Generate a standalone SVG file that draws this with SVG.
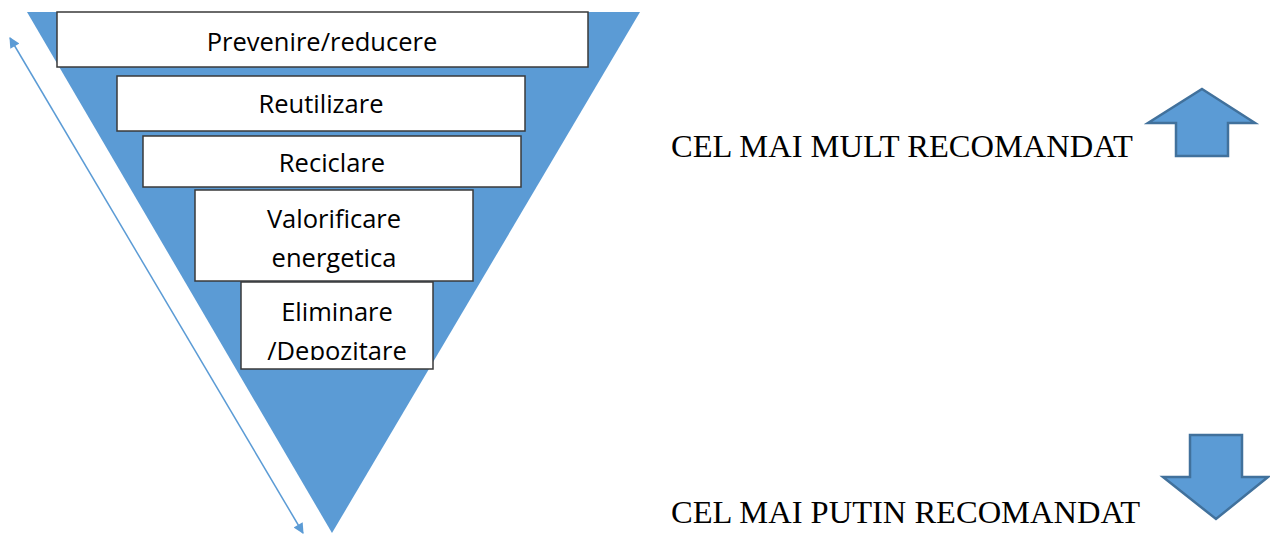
<svg xmlns="http://www.w3.org/2000/svg" width="1270" height="534" viewBox="0 0 1270 534">
<style>
.box{fill:#fff;stroke:#3a3a3a;stroke-width:1.5}
.bt{font-family:"Open Sans","Liberation Sans",sans-serif;font-size:25.5px;fill:#000;text-anchor:middle}
.rt{font-family:"Liberation Serif",serif;font-size:32.5px;fill:#000}
.blk{fill:#5B9BD5;stroke:#41719C;stroke-width:2.5}
</style>
<defs>
<marker id="ah" viewBox="0 0 10 10" refX="9" refY="5" markerWidth="8" markerHeight="7" orient="auto-start-reverse" markerUnits="strokeWidth">
<path d="M0,0 L10,5 L0,10 z" fill="#5B9BD5"/>
</marker>
<clipPath id="c5"><rect x="241" y="282" width="192" height="78"/></clipPath>
</defs>
<polygon id="triangle" points="27,12 640,12 332,533" fill="#5B9BD5"/>
<g id="connectors">
<line x1="10" y1="38" x2="303" y2="533" stroke="#5B9BD5" stroke-width="1.5" marker-start="url(#ah)" marker-end="url(#ah)"/>
</g>
<g id="n1"><rect class="box" x="57" y="12" width="531" height="55"/><text class="bt" x="322" y="51">Prevenire/reducere</text></g>
<g id="n2"><rect class="box" x="117" y="76" width="408" height="55"/><text class="bt" x="321" y="113">Reutilizare</text></g>
<g id="n3"><rect class="box" x="143" y="136" width="378" height="51"/><text class="bt" x="332" y="172">Reciclare</text></g>
<g id="n4"><rect class="box" x="195" y="190" width="278" height="91"/><text class="bt" x="334" y="228">Valorificare</text><text class="bt" x="334" y="267">energetica</text></g>
<g id="n5"><rect class="box" x="241" y="282" width="192" height="87"/><g clip-path="url(#c5)"><text class="bt" x="337" y="321">Eliminare</text><text class="bt" x="337" y="360">/Depozitare</text></g></g>
<g id="up"><polygon class="blk" points="1202,89 1255,123 1228,123 1228,156 1176,156 1176,123 1148,123"/></g>
<g id="down"><polygon class="blk" points="1190,435 1242,435 1242,477 1268,477 1216,519 1163,477 1190,477"/></g>
<text class="rt" x="671" y="157">CEL MAI MULT RECOMANDAT</text>
<text class="rt" x="671" y="523">CEL MAI PUTIN RECOMANDAT</text>
</svg>
